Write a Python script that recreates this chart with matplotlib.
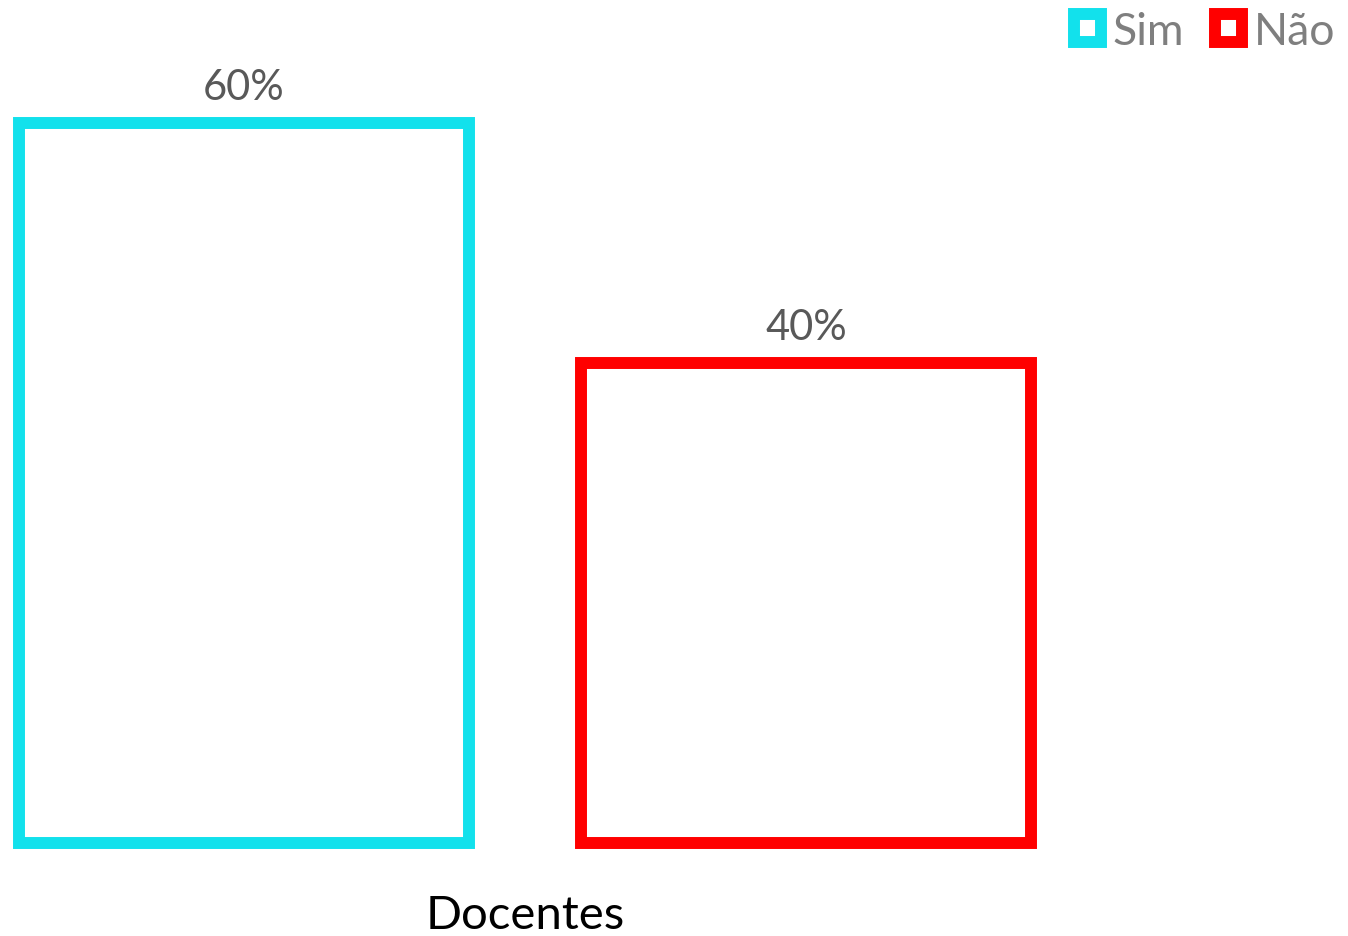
import matplotlib
matplotlib.use("Agg")
import matplotlib.pyplot as plt

plt.rcParams['font.family'] = ['Lato', 'DejaVu Sans']

# data
category = 'Docentes'
series = ['Sim', 'Não']
values = [60, 40]
colors = ['#12E1EC', '#FF0000']

fig = plt.figure(figsize=(13.48, 9.37), dpi=100)
ax = fig.add_axes([0, 0, 1, 1])

# one bar per series, outline only
for i, (name, v, c) in enumerate(zip(series, values, colors)):
    b = ax.bar(i, v, width=0.8, facecolor='white', edgecolor=c,
               linewidth=8.6, label=name, joinstyle='miter')
    ax.bar_label(b, labels=[f'{v}%'], padding=12, fontsize=30, color='#595959')

ax.set_xlim(-0.434, 1.964)
ax.set_ylim(-7.75, 70.33)
ax.axis('off')

# category label under the group
ax.annotate(category, xy=(0.5, 0), xytext=(0, -52), textcoords='offset points',
            ha='center', va='center', fontsize=34, color='black')

leg = ax.legend(loc='upper right', bbox_to_anchor=(0.997, 0.997),
                frameon=False, fontsize=32, handlelength=0.62, handleheight=0.62,
                handletextpad=0.25, columnspacing=0.7, ncol=2, borderaxespad=0,
                borderpad=0.2)
for t in leg.get_texts():
    t.set_color('#7F7F7F')

fig.savefig('out.png', dpi=100, facecolor='white')
